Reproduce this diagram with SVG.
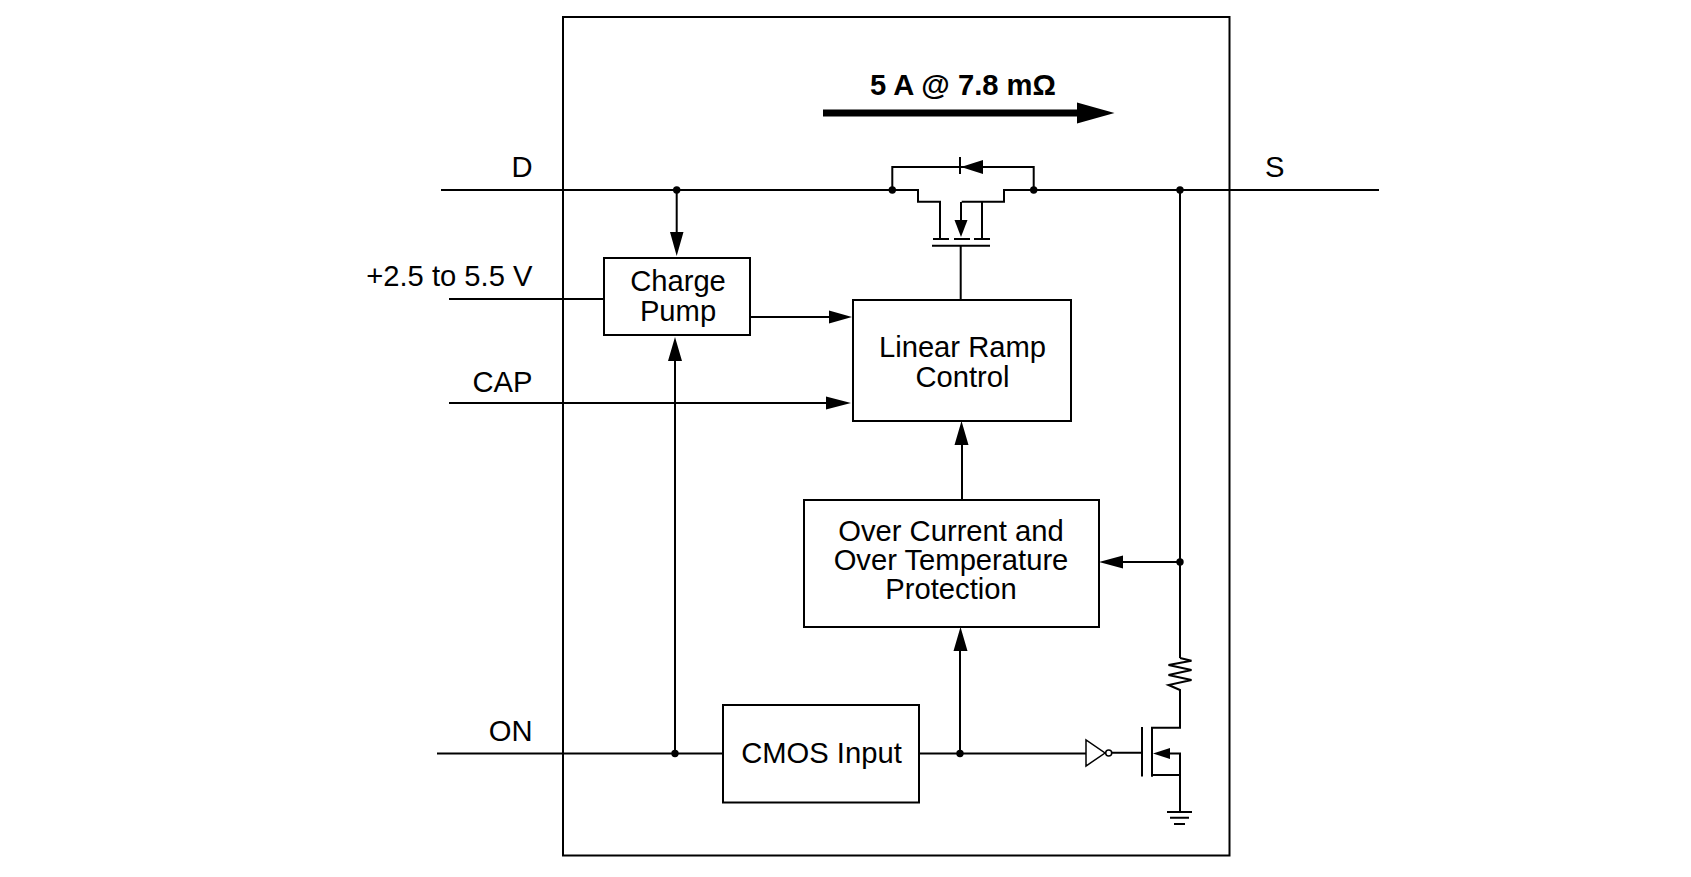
<svg xmlns="http://www.w3.org/2000/svg" width="1691" height="877" viewBox="0 0 1691 877">
<style>
.box{fill:none;stroke:#000;stroke-width:2}
.w{fill:none;stroke:#000;stroke-width:2}
.t{font-family:"Liberation Sans",Arial,sans-serif;font-size:29.2px;fill:#000}
.c{text-anchor:middle}
.e{text-anchor:end}
.b{font-weight:bold}
.h{fill:#000;stroke:none}
</style>
<rect width="1691" height="877" fill="#fff"/>
<g id="outer"><rect class="box" x="563" y="17" width="666.500" height="838.500"/></g>
<g id="connectors">
<path class="w" d="M441 190H918V201.700H940V238M1379 190H1004V201.700H961.700M982 201.700V238"/>
<path class="w" d="M892.300 190V167H1033.700V190M960 157V174"/>
<path class="h" d="M961 167L983 160V174Z"/>
<path class="w" d="M933 239H949M954 239H970M974 239H990M932 245.700H990M960.700 246V300M961 202V222"/>
<path class="h" d="M961 237L954.500 220H967.500Z"/>
<path class="w" d="M676.700 190V235M449 299H604M750 317H832M449 403H831M675 753.500V358M437 753.500H723M919 753.500H1086M960 753.500V648M962 499V442M1180 190V658M1180 562H1120"/>
<path class="h" d="M676.700 256L670 232H683.500ZM852 317L829 310.500V323.500ZM851 403L826 396.500V409.500ZM675 337L668 361H682ZM960.500 627L953.500 651H967.500ZM961.500 421L954.500 445H968.500ZM1099 562L1123 555.500V568.500Z"/>
<path class="w" d="M1180 658L1191.500 660.700L1168.500 665L1191.500 670L1168.500 675L1191.500 680L1168.500 685L1180 690V727.700H1152V776.700M1152 775H1180V753.500H1170M1180 775V811.700M1142 727V776.500M1111.700 752.700H1142M1167 812H1192M1170 817.700H1189M1174 824H1185"/>
<path class="h" d="M1153 753.500L1170 748V759Z"/>
<path d="M1086 740V766L1105 753Z" fill="#fff" stroke="#000" stroke-width="1.500"/>
<circle cx="1108.700" cy="753" r="3" fill="#fff" stroke="#000" stroke-width="1.500"/>
<rect class="h" x="823" y="109.500" width="256" height="7"/>
<path class="h" d="M1114.500 113L1077 102.500V123.500Z"/>
<g class="h"><circle cx="676.700" cy="190" r="3.700"/><circle cx="892.300" cy="190" r="3.700"/><circle cx="1033.700" cy="190" r="3.700"/><circle cx="1180" cy="190" r="3.700"/><circle cx="1180" cy="562" r="3.700"/><circle cx="675" cy="753.500" r="3.700"/><circle cx="960" cy="753.500" r="3.700"/></g>
</g>
<g id="charge-pump"><rect class="box" x="604" y="258" width="146" height="77"/><text class="t c" x="678" y="291">Charge</text><text class="t c" x="678" y="321">Pump</text></g>
<g id="linear-ramp"><rect class="box" x="853" y="300" width="218" height="121"/><text class="t c" x="962.500" y="357">Linear Ramp</text><text class="t c" x="962.500" y="387">Control</text></g>
<g id="protection"><rect class="box" x="804" y="500" width="295" height="127"/><text class="t c" x="951" y="540.500">Over Current and</text><text class="t c" x="951" y="570">Over Temperature</text><text class="t c" x="951" y="599">Protection</text></g>
<g id="cmos-input"><rect class="box" x="723" y="705" width="196" height="97.500"/><text class="t c" x="821.500" y="763">CMOS Input</text></g>
<g id="labels">
<text class="t e" x="532.500" y="177">D</text>
<text class="t" x="1265" y="177">S</text>
<text class="t e" x="532.500" y="286">+2.5 to 5.5 V</text>
<text class="t e" x="532.500" y="392">CAP</text>
<text class="t e" x="532.500" y="741">ON</text>
<text class="t b" x="870" y="95">5 A @ 7.8 mΩ</text>
</g>
</svg>
